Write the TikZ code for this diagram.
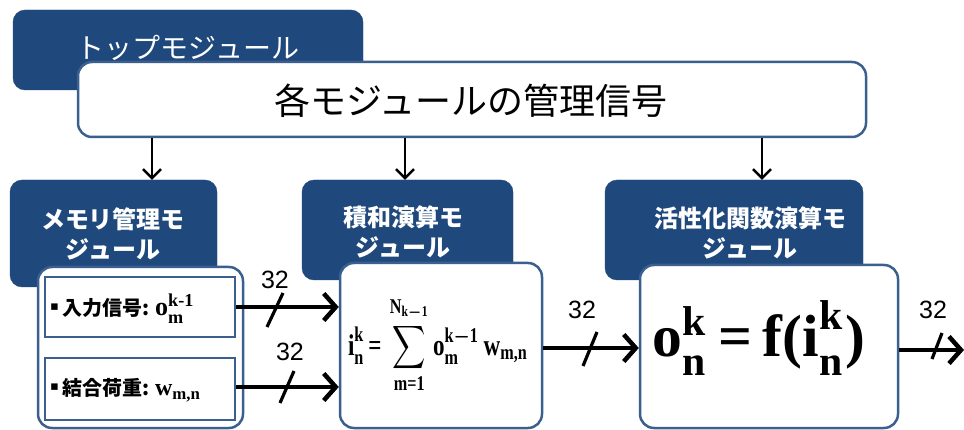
\documentclass[tikz,border=0pt]{standalone}
\usepackage{amsmath}
\usepackage{fontspec}
\usepackage{graphicx}
\newfontfamily\jp{Noto Sans CJK JP}
\newfontfamily\numf{Liberation Sans}
\newfontfamily\dejavu{DejaVu Sans}
\newfontfamily\serf{Liberation Serif}
\usetikzlibrary{arrows.meta}
\definecolor{dblue}{RGB}{31,73,125}
\definecolor{bblue}{RGB}{59,95,143}
\newcommand{\mybul}{\raisebox{5pt}{\dejavu\fontsize{13}{13}\selectfont ▪}\hspace{3pt}}
\newcommand{\fb}[1]{\text{\serf\bfseries #1}}
\begin{document}
\mathversion{bold}
\begin{tikzpicture}[x=1pt,y=-1pt,
 darkbox/.style={fill=dblue, draw=dblue, rounded corners=12pt, inner sep=0pt},
 wbox/.style={fill=white, draw=bblue, line width=2.5pt, rounded corners=14pt, inner sep=0pt},
 ibox/.style={fill=white, draw=bblue, line width=2.5pt, inner sep=0pt},
 dtext/.style={text=white, font=\jp\bfseries\fontsize{24}{30}\selectfont, align=center, inner sep=0pt},
 itext/.style={anchor=west, inner sep=0pt, font=\jp\bfseries\fontsize{20}{24}\selectfont},
 down/.style={line width=2.5pt, -{Straight Barb[length=9pt,width=18pt,line width=2.5pt]}},
 flow/.style={line width=4.5pt, -{Straight Barb[length=12pt,width=27pt,line width=4.5pt]}},
 slash/.style={line width=3.2pt},
 num/.style={font=\numf\fontsize{25}{25}\selectfont, inner sep=0pt}
]
\useasboundingbox (0,0) rectangle (964,430);
% top module
\node[darkbox, minimum width=350pt, minimum height=80pt] (top) at (188,50) {};
\node[text=white, font=\jp\fontsize{28}{30}\selectfont, inner sep=0pt] (toplbl) at (188,48) {トップモジュール};
\node[wbox, minimum width=788pt, minimum height=75pt] (mgmt) at (472,99.5) {};
\node[font=\jp\fontsize{36}{40}\selectfont, inner sep=0pt] (mgmtlbl) at (471,101) {各モジュールの管理信号};
% module headers
\node[darkbox, minimum width=207pt, minimum height=107pt] (d1) at (113.5,233.5) {};
\node[dtext] (d1l) at (113,234) {メモリ管理モ\\ジュール};
\node[darkbox, minimum width=211pt, minimum height=100pt] (d2) at (407.5,230) {};
\node[dtext] (d2l) at (403,232) {積和演算モ\\ジュール};
\node[darkbox, minimum width=258pt, minimum height=100pt] (d3) at (734,230) {};
\node[dtext] (d3l) at (750,233) {活性化関数演算モ\\ジュール};
% down arrows
\draw[down] (mgmt.south -| 152,0) -- (d1.north -| 152,0);
\draw[down] (mgmt.south -| 405,0) -- (d2.north -| 405,0);
\draw[down] (mgmt.south -| 762,0) -- (d3.north -| 762,0);
% white containers
\node[wbox, minimum width=205pt, minimum height=161pt] (w1) at (140.5,347.5) {};
\node[ibox, minimum width=190pt, minimum height=60pt] (in1) at (140,307) {};
\node[ibox, minimum width=190pt, minimum height=62pt] (in2) at (140,389) {};
\node[itext] (t1) at (50,309) {\mybul 入力信号: {\fontsize{26}{26}\selectfont$\fb{o}^{\fb{k-1}}_{\fb{m}}$}};
\node[itext] (t2) at (50,390) {\mybul 結合荷重: {\fontsize{24}{24}\selectfont$\fb{w}_{\fb{m,n}}$}};
\node[wbox, minimum width=202pt, minimum height=165pt] (w2) at (441,345.5) {};
\node[inner sep=0pt] (f1) at (438,345) {\scalebox{1}[1.3]{\resizebox{180pt}{!}{$\displaystyle \fb{i}^{\fb{k}}_{\fb{n}} \fb{\,=\,} \sum_{\fb{m=1}}^{\fb{N}_{\fb{k}-\fb{1}}} \fb{o}^{\fb{k}-\fb{1}}_{\fb{m}}\,\fb{w}_{\fb{m,n}}$}}};
\node[wbox, minimum width=258pt, minimum height=163pt] (w3) at (769,346.5) {};
\node[inner sep=0pt] (f2) at (759,338) {\resizebox{212pt}{!}{$\fb{o}^{\fb{k}}_{\fb{n}} \fb{\,=\,} \fb{f(i}^{\fb{k}}_{\fb{n}}\fb{)}$}};
% flow arrows
\coordinate (out) at (964,350);
\draw[flow] (in1.east) -- (in1.east -| w2.west);
\draw[flow] (in2.east |- 0,387) -- (w2.west |- 0,387);
\draw[flow] (w2.east |- 0,348) -- (w3.west |- 0,348);
\draw[flow] (w3.east |- out) -- (out);
% bus slashes
\coordinate (s1) at (275,310);
\coordinate (s2) at (287,387);
\coordinate (s3) at (590,349);
\coordinate (s4) at (937,346);
\draw[slash] (s1) ++(-8,17) -- ++(16,-34);
\draw[slash] (s2) ++(-7,16) -- ++(14,-32);
\draw[slash] (s3) ++(-7,17) -- ++(14,-34);
\draw[slash] (s4) ++(-5,13) -- ++(10,-26);
\node[num] (n1) at (275,280) {32};
\node[num] (n2) at (290,352) {32};
\node[num] (n3) at (582,310) {32};
\node[num] (n4) at (933,310) {32};
\end{tikzpicture}
\end{document}
